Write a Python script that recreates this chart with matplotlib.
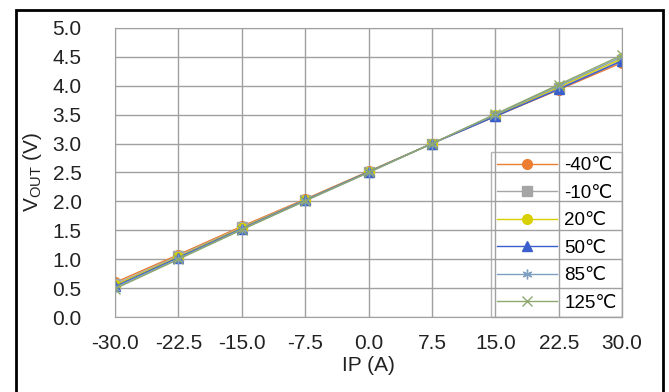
import numpy as np
import matplotlib.pyplot as plt
from matplotlib.patches import Rectangle

plt.rcParams['font.family'] = ['Liberation Sans', 'DejaVu Sans']

# current IP (A)
ip = [-30.0, -22.5, -15.0, -7.5, 0.0, 7.5, 15.0, 22.5, 30.0]
# VOUT (V) per temperature
v_m40 = [0.60, 1.08, 1.57, 2.04, 2.52, 3.00, 3.47, 3.93, 4.40]
v_m10 = [0.57, 1.06, 1.55, 2.03, 2.51, 3.00, 3.48, 3.96, 4.44]
v_20 = [0.55, 1.04, 1.54, 2.02, 2.51, 3.00, 3.49, 3.98, 4.47]
v_50 = [0.53, 1.03, 1.53, 2.02, 2.51, 3.00, 3.47, 3.94, 4.43]
v_85 = [0.51, 1.01, 1.52, 2.01, 2.50, 3.00, 3.50, 4.00, 4.50]
v_125 = [0.49, 1.00, 1.51, 2.01, 2.50, 3.00, 3.51, 4.02, 4.53]
labels = ['-40℃', '-10℃', '20℃', '50℃', '85℃', '125℃']
xticks = [-30.0, -22.5, -15.0, -7.5, 0.0, 7.5, 15.0, 22.5, 30.0]
yticks = np.arange(0, 5.01, 0.5)

series = [v_m40, v_m10, v_20, v_50, v_85, v_125]
colors = ['#ED7D31', '#A5A5A5', '#D8D000', '#3A5FCD', '#7F9FC0', '#8FA870']
markers = ['o', 's', 'o', '^', (6, 2, 0), 'x']

fig = plt.figure(figsize=(6.69, 3.92), dpi=100)
ax = fig.add_axes([0.172, 0.191, 0.758, 0.738])

for v, c, m, lab in zip(series, colors, markers, labels):
    ax.plot(ip, v, color=c, marker=m, markersize=7, linewidth=1.0, label=lab)

ax.set_xlim(-30, 30)
ax.set_ylim(0, 5)
ax.set_xticks(xticks)
ax.set_xticklabels(['%.1f' % t for t in xticks])
ax.set_yticks(yticks)
ax.set_yticklabels(['%.1f' % t for t in yticks])
ax.tick_params(labelsize=15, colors='#222222', length=0)
ax.tick_params(axis='y', pad=24)
ax.tick_params(axis='x', pad=12)
ax.grid(True, color='#A0A0A0', linewidth=1)
ax.set_axisbelow(True)
for s in ax.spines.values():
    s.set_color('#A0A0A0')

ax.set_xlabel('IP (A)', fontsize=15, color='#222222', labelpad=2)
ax.set_ylabel(r'V$_{\mathregular{OUT}}$ (V)', fontsize=15, color='#222222', labelpad=6)

leg = ax.legend(loc='lower right', fontsize=13.5, frameon=True, fancybox=False,
                borderaxespad=0, handlelength=3.2, labelspacing=0.55,
                borderpad=0.3, handletextpad=0.4)
leg.get_frame().set_edgecolor('#A0A0A0')
leg.get_frame().set_facecolor('none')

# outer frame
fig.patches.append(Rectangle((16 / 669, -0.05), 647 / 669, 1.05 - 10 / 392,
                             transform=fig.transFigure, fill=False,
                             edgecolor='black', linewidth=2, clip_on=False))

fig.savefig('out.png', dpi=100)
